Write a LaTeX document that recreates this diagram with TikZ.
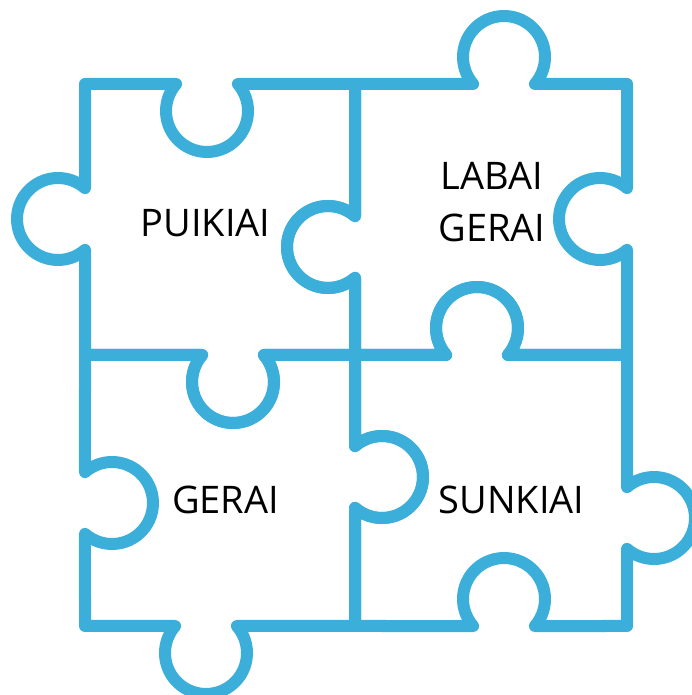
\documentclass[tikz,border=0pt]{standalone}
\usepackage{fontspec}
\setmainfont{Open Sans}
\definecolor{puzzleblue}{RGB}{59,175,218}
\begin{document}
\begin{tikzpicture}[x=1pt,y=1pt,
  piece/.style={draw=puzzleblue, line width=12pt, line join=round, line cap=round},
  knob/.style n args={4}{insert path={-- ({#1+41*cos(#3)},{#2+41*sin(#3)}) arc[start angle=#3,end angle=#4,radius=41pt]}},
  word/.style={font=\fontsize{38}{52}\selectfont, text=black, align=center}]
\useasboundingbox (0,0) rectangle (691,695);
% top-left piece
\draw[piece] (85,611) [knob={207}{584}{138.8}{401.2}] -- (355,611)
  [knob={328}{448}{48.8}{311.2}] -- (355,340)
  [knob={233}{313}{41.2}{-221.2}] -- (85,340)
  [knob={58}{476}{-48.8}{-311.2}] -- cycle;
% top-right piece
\draw[piece] (355,611) [knob={504}{638}{221.2}{-41.2}] -- (627,611)
  [knob={600}{476}{48.8}{311.2}] -- (627,340)
  [knob={477}{367}{-41.2}{221.2}] -- (355,340)
  [knob={328}{448}{-48.8}{-311.2}] -- cycle;
% bottom-left piece
\draw[piece] (85,340) [knob={233}{313}{138.8}{401.2}] -- (355,340)
  [knob={382}{218}{131.2}{-131.2}] -- (355,69)
  [knob={206}{42}{41.2}{-221.2}] -- (85,69)
  [knob={112}{192}{228.8}{491.2}] -- cycle;
% bottom-right piece
\draw[piece] (355,340) [knob={477}{367}{221.2}{-41.2}] -- (627,340)
  [knob={654}{177}{131.2}{-131.2}] -- (627,69)
  [knob={504}{96}{-41.2}{221.2}] -- (355,69)
  [knob={382}{218}{228.8}{491.2}] -- cycle;
\node[word] (puikiai) at (205.5,471.5) {PUIKIAI};
\node[word] (labai) at (492,493) {LABAI\\GERAI};
\node[word] (gerai) at (225.5,195.5) {GERAI};
\node[word] (sunkiai) at (511.5,195.5) {SUNKIAI};
\end{tikzpicture}
\end{document}
